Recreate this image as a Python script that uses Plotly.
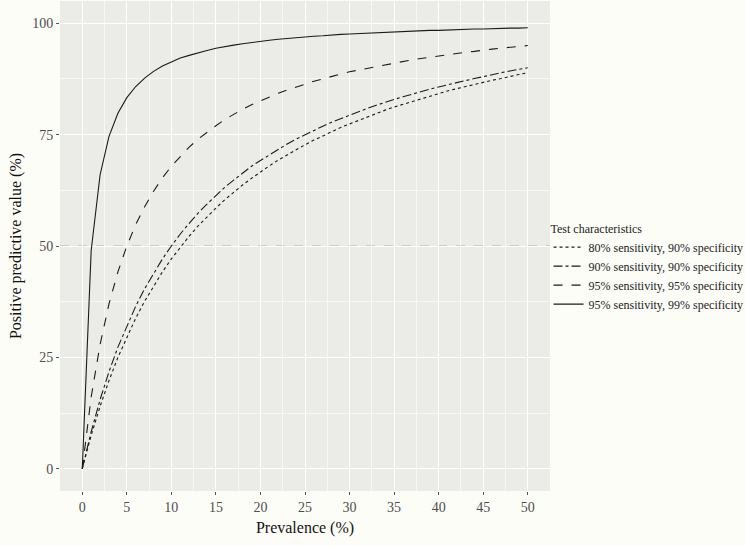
import plotly.graph_objects as go

prevalence = list(range(0, 51))

ppv_80_90 = [0.0, 7.5, 14.0, 19.8, 25.0, 29.6, 33.8, 37.6, 41.0, 44.2, 47.1, 49.7, 52.2, 54.5, 56.6,
             58.5, 60.4, 62.1, 63.7, 65.2, 66.7, 68.0, 69.3, 70.5, 71.6, 72.7, 73.8, 74.7, 75.7,
             76.6, 77.4, 78.2, 79.0, 79.8, 80.5, 81.2, 81.8, 82.5, 83.1, 83.6, 84.2, 84.8, 85.3,
             85.8, 86.3, 86.7, 87.2, 87.6, 88.1, 88.5, 88.9]
ppv_90_90 = [0.0, 8.3, 15.5, 21.8, 27.3, 32.1, 36.5, 40.4, 43.9, 47.1, 50.0, 52.7, 55.1, 57.4, 59.4,
             61.4, 63.2, 64.8, 66.4, 67.9, 69.2, 70.5, 71.7, 72.9, 74.0, 75.0, 76.0, 76.9, 77.8,
             78.6, 79.4, 80.2, 80.9, 81.6, 82.3, 82.9, 83.5, 84.1, 84.7, 85.2, 85.7, 86.2, 86.7,
             87.2, 87.6, 88.0, 88.5, 88.9, 89.3, 89.6, 90.0]
ppv_95_95 = [0.0, 16.1, 27.9, 37.0, 44.2, 50.0, 54.8, 58.8, 62.3, 65.3, 67.9, 70.1, 72.2, 74.0, 75.6,
             77.0, 78.4, 79.6, 80.7, 81.7, 82.6, 83.5, 84.3, 85.0, 85.7, 86.4, 87.0, 87.5, 88.1,
             88.6, 89.1, 89.5, 89.9, 90.3, 90.7, 91.1, 91.4, 91.8, 92.1, 92.4, 92.7, 93.0, 93.2,
             93.5, 93.7, 94.0, 94.2, 94.4, 94.6, 94.8, 95.0]
ppv_95_99 = [0.0, 49.0, 66.0, 74.6, 79.8, 83.3, 85.8, 87.7, 89.2, 90.4, 91.3, 92.2, 92.8, 93.4, 93.9,
             94.4, 94.8, 95.1, 95.4, 95.7, 96.0, 96.2, 96.4, 96.6, 96.8, 96.9, 97.1, 97.2, 97.4,
             97.5, 97.6, 97.7, 97.8, 97.9, 98.0, 98.1, 98.2, 98.2, 98.3, 98.4, 98.4, 98.5, 98.6,
             98.6, 98.7, 98.7, 98.8, 98.8, 98.9, 98.9, 99.0]

series_names = ["80% sensitivity, 90% specificity",
                "90% sensitivity, 90% specificity",
                "95% sensitivity, 95% specificity",
                "95% sensitivity, 99% specificity"]
series_values = [ppv_80_90, ppv_90_90, ppv_95_95, ppv_95_99]
series_dash = ["dot", "dashdot", "dash", "solid"]

x_ticks = list(range(0, 51, 5))
y_ticks = [0, 25, 50, 75, 100]
threshold = 50

FONT = "Times New Roman, Liberation Serif, serif"

fig = go.Figure()
for name, vals, dash in zip(series_names, series_values, series_dash):
    fig.add_trace(go.Scatter(x=prevalence, y=vals, mode="lines", name=name,
                             line=dict(color="#1a1a1a", width=1.1, dash=dash)))

fig.add_hline(y=threshold, line=dict(color="#ababab", width=1, dash="dash"), layer="below")

axis_common = dict(showline=False, zeroline=False, ticks="outside", ticklen=3, automargin=False,
                   tickcolor="#555555", tickwidth=1, gridcolor="#ffffff", gridwidth=1.1,
                   tickfont=dict(family=FONT, size=14, color="#4d4d4d"))

fig.update_xaxes(range=[-2.5, 52.5], tickvals=x_ticks,
                 title=dict(text="Prevalence (%)", font=dict(family=FONT, size=16, color="#111111"), standoff=8),
                 minor=dict(tickvals=[v + 2.5 for v in x_ticks[:-1]], showgrid=True,
                            gridcolor="#f7f7f4", gridwidth=0.5, ticks=""),
                 **axis_common)
fig.update_yaxes(range=[-5, 105], tickvals=y_ticks,
                 title=dict(text="Positive predictive value (%)", font=dict(family=FONT, size=16, color="#111111"), standoff=6),
                 minor=dict(tickvals=[v + 12.5 for v in y_ticks[:-1]], showgrid=True,
                            gridcolor="#f7f7f4", gridwidth=0.5, ticks=""),
                 **axis_common)

fig.update_layout(
    width=745, height=545,
    margin=dict(l=60, r=195, t=1, b=54, autoexpand=False),
    paper_bgcolor="#fdfdf8",
    plot_bgcolor="#ebebe7",
    font=dict(family=FONT, size=12, color="#222222"),
    legend=dict(title=dict(text="Test characteristics", font=dict(family=FONT, size=12)),
                x=0.997, xanchor="left", y=0.455, yanchor="middle",
                bgcolor="rgba(0,0,0,0)", font=dict(family=FONT, size=12),
                tracegroupgap=0),
    showlegend=True,
)

fig.write_html("out.html", config={"displayModeBar": False},
               post_script="document.body.style.margin='0';")
